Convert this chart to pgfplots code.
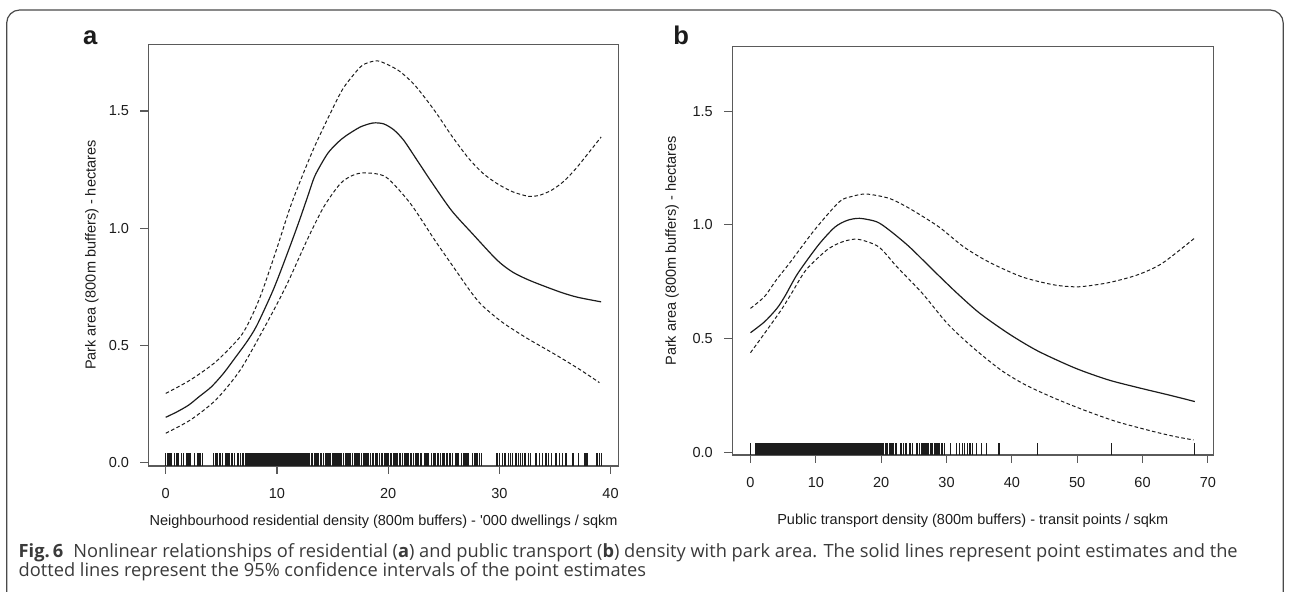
\documentclass[border=0pt]{standalone}
\usepackage{fontspec}
\setmainfont{Liberation Sans}
\newfontfamily\capfont{Open Sans}
\usepackage{pgfplots}
\pgfplotsset{compat=1.18}
\definecolor{boxgray}{HTML}{5A5A5A}
\definecolor{framegray}{HTML}{4A4A4A}
\definecolor{captext}{HTML}{3A3A3A}
\definecolor{ink}{HTML}{1C1C1C}
\newlength\tmpw
\newcommand\xlaba{Neighbourhood residential density (800m buffers) - \textquotesingle000 dwellings / sqkm}
\newcommand\capone{\textbf{Fig.\,6}\hspace{0.55em}Nonlinear relationships of residential (\textbf{a}) and public transport (\textbf{b}) density with park area. The solid lines represent point estimates and the}
\pgfplotsset{
  rstyle/.style={
    scale only axis, anchor=south west,
    axis line style={boxgray, line width=0.55pt},
    every tick/.style={boxgray, line width=0.55pt},
    tick align=outside, major tick length=4pt,
    xtick pos=bottom, ytick pos=left,
    ytick={0,0.5,1,1.5},
    yticklabels={0.0,0.5,1.0,1.5},
    /pgf/number format/assume math mode=true,
    tick label style={font=\fontsize{\labsize}{\labsize}\selectfont, text=ink},
    yticklabel style={xshift=-2.2pt},
    xticklabel style={yshift=-3.5pt},
    label style={font=\fontsize{\labsize}{\labsize}\selectfont, text=ink},
    ylabel style={anchor=center},
    xlabel style={anchor=center},
    clip=false,
  },
  est/.style={ink, line width=0.6pt, smooth, tension=0.45},
  ci/.style={ink, line width=0.5pt, dash pattern=on 1.8pt off 1.2pt, smooth, tension=0.45},
}
\begin{document}%
\settowidth\tmpw{\fontsize{10}{12}\selectfont\xlaba}%
\pgfmathsetmacro\labsize{10*234/\tmpw}%
\settowidth\tmpw{\capfont\fontsize{10}{12}\selectfont\capone}%
\pgfmathsetmacro\capsize{10*609.5/\tmpw}%
\begin{tikzpicture}[x=1pt,y=1pt]
\path[use as bounding box] (0,0) rectangle (645,296);
\draw[framegray, line width=0.6pt, rounded corners=6.5pt] (3.35,-20) rectangle (641.6,291);

% ---------------- panel a ----------------
\begin{axis}[rstyle,
  at={(74.2pt,63pt)}, width=235.25pt, height=210.85pt,
  xmin=-1.56, xmax=40.75, ymin=-0.016, ymax=1.785,
  xtick={0,10,20,30,40},
  xlabel={\xlaba},
  ylabel={Park area (800m buffers) - hectares},
  xlabel style={at={(axis description cs:0.5,-0.1321)}},
  ylabel style={at={(axis description cs:-0.1199,0.5)}},
]
\addplot[est] coordinates {
(0,0.192)(1,0.215)(2.06,0.244)(3,0.28)(4.1,0.322)(5.2,0.38)(6.3,0.45)(7.3,0.515)
(8.2,0.585)(9.7,0.74)(11.0,0.90)(12.0,1.03)(12.8,1.14)(13.43,1.225)(14.55,1.318)(15.5,1.367)
(16.2,1.394)(17.5,1.432)(18.65,1.449)(19.6,1.445)(20.5,1.42)(21.4,1.375)(22.6,1.29)
(23.9,1.197)(25.7,1.075)(27.6,0.975)(29.8,0.863)(31.2,0.812)(32.8,0.775)(35.4,0.728)
(37.0,0.705)(39.15,0.685)};
\addplot[ci] coordinates {
(0,0.294)(2.2,0.351)(4.5,0.429)(6.7,0.536)(7.7,0.62)(8.6,0.72)(9.9,0.9)(11.2,1.09)
(12.3,1.225)(13.4,1.35)(14.9,1.50)(16.0,1.60)(17.5,1.688)(18.3,1.708)(19.2,1.713)
(20.9,1.674)(22.4,1.61)(24.2,1.50)(25.7,1.395)(27.2,1.30)(28.5,1.235)(29.8,1.19)
(31.2,1.155)(32.6,1.136)(33.6,1.14)(34.7,1.162)(35.8,1.2)(36.9,1.255)(38.0,1.32)(39.15,1.389)};
\addplot[ci] coordinates {
(0,0.124)(2.2,0.18)(4.5,0.266)(6.7,0.394)(8.9,0.578)(10.8,0.75)(12.7,0.948)(14.2,1.09)
(15.7,1.19)(16.8,1.225)(17.9,1.236)(19.8,1.218)(22.0,1.105)(24.2,0.948)(26.0,0.825)
(27.4,0.73)(28.4,0.672)(30.2,0.60)(32.4,0.532)(35.1,0.458)(37.3,0.394)(39.0,0.34)};
% rug
\addplot[only marks, mark=|, mark size=3.16pt, mark options={ink, line width=0.75pt}] coordinates {
(0.0,0.011)(0.2,0.011)(0.4,0.011)(0.5,0.011)(0.8,0.011)(1.0,0.011)(1.1,0.011)(1.4,0.011)
(1.6,0.011)(1.9,0.011)(2.1,0.011)(2.2,0.011)(2.6,0.011)(2.9,0.011)(3.1,0.011)(3.3,0.011)
(4.3,0.011)(4.5,0.011)(4.6,0.011)(4.9,0.011)(5.1,0.011)(5.4,0.011)(5.5,0.011)(5.7,0.011)
(5.9,0.011)(6.0,0.011)(6.2,0.011)(6.5,0.011)(6.7,0.011)(6.9,0.011)(7.0,0.011)(7.2,0.011)
(12.5,0.011)(12.6,0.011)(12.8,0.011)(12.9,0.011)(13.1,0.011)(13.2,0.011)(13.4,0.011)(13.6,0.011)
(13.7,0.011)(13.9,0.011)(14.0,0.011)(14.2,0.011)(14.4,0.011)(14.5,0.011)(14.7,0.011)(14.8,0.011)
(15.0,0.011)(15.1,0.011)(15.2,0.011)(15.3,0.011)(15.4,0.011)(15.5,0.011)(15.6,0.011)(15.7,0.011)
(15.8,0.011)(16.0,0.011)(16.2,0.011)(16.3,0.011)(16.5,0.011)(16.6,0.011)(16.8,0.011)(17.0,0.011)
(17.1,0.011)(17.3,0.011)(17.4,0.011)(17.6,0.011)(17.8,0.011)(17.9,0.011)(18.1,0.011)(18.2,0.011)
(18.4,0.011)(18.6,0.011)(18.7,0.011)(18.9,0.011)(19.0,0.011)(19.2,0.011)(19.4,0.011)(19.5,0.011)
(19.7,0.011)(19.8,0.011)(20.0,0.011)(20.2,0.011)(20.3,0.011)(20.5,0.011)(20.6,0.011)(20.8,0.011)
(21.0,0.011)(21.1,0.011)(21.3,0.011)(21.5,0.011)(21.6,0.011)(21.8,0.011)(22.0,0.011)(22.1,0.011)
(22.3,0.011)(22.5,0.011)(22.7,0.011)(22.9,0.011)(23.0,0.011)(23.3,0.011)(23.5,0.011)(23.6,0.011)
(23.9,0.011)(24.1,0.011)(24.2,0.011)(24.5,0.011)(24.7,0.011)(24.9,0.011)(25.0,0.011)(25.3,0.011)
(25.5,0.011)(25.6,0.011)(25.8,0.011)(26.1,0.011)(26.3,0.011)(26.6,0.011)(26.8,0.011)(27.0,0.011)
(27.2,0.011)(27.6,0.011)(27.8,0.011)(28.0,0.011)(28.2,0.011)(28.4,0.011)
(29.8,0.011)(30.0,0.011)(30.3,0.011)(30.5,0.011)(30.8,0.011)(31.0,0.011)(31.2,0.011)(31.5,0.011)
(31.7,0.011)(31.9,0.011)(32.1,0.011)(32.3,0.011)(32.6,0.011)(32.8,0.011)(33.3,0.011)(33.6,0.011)
(33.9,0.011)(34.2,0.011)(34.4,0.011)(34.7,0.011)(35.1,0.011)(35.4,0.011)(35.7,0.011)(36.0,0.011)
(36.6,0.011)(37.1,0.011)(37.7,0.011)(37.9,0.011)(38.8,0.011)(39.0,0.011)(39.2,0.011)};
\addplot[only marks, mark=|, mark size=3.16pt, mark options={ink, line width=2pt}] coordinates {
(7.45,0.011)(7.75,0.011)(8.05,0.011)(8.35,0.011)(8.65,0.011)(8.95,0.011)(9.25,0.011)(9.55,0.011)
(9.85,0.011)(10.15,0.011)(10.45,0.011)(10.75,0.011)(11.05,0.011)(11.35,0.011)(11.65,0.011)
(11.95,0.011)(12.25,0.011)};
\end{axis}

% ---------------- panel b ----------------
\begin{axis}[rstyle,
  at={(366.1pt,68.5pt)}, width=240.55pt, height=204.15pt,
  xmin=-2.8, xmax=70.83, ymin=-0.012, ymax=1.784,
  xtick={0,10,20,30,40,50,60,70},
  xlabel={Public transport density (800m buffers) - transit points / sqkm},
  ylabel={Park area (800m buffers) - hectares},
  xlabel style={at={(axis description cs:0.5,-0.1609)}},
  ylabel style={at={(axis description cs:-0.1247,0.5)}},
]
\addplot[est] coordinates {
(0,0.526)(2.15,0.574)(4.05,0.633)(5.3,0.688)(7.2,0.785)(10.4,0.912)(12.9,0.99)(14.8,1.02)
(16.7,1.029)(19.3,1.014)(21.2,0.978)(24.3,0.904)(28.2,0.794)(31.6,0.70)(35.1,0.611)
(39.6,0.52)(44.0,0.445)(49.7,0.37)(54.8,0.318)(59.8,0.281)(64.3,0.25)(68,0.223)};
\addplot[ci] coordinates {
(0,0.633)(2.15,0.685)(4.0,0.76)(5.95,0.831)(9.8,0.978)(13.6,1.102)(15.5,1.125)(17.7,1.136)
(21.2,1.117)(24.3,1.073)(28.8,0.992)(32.6,0.904)(36.4,0.838)(41.5,0.772)(46.5,0.736)
(50.3,0.728)(54.8,0.746)(59.2,0.78)(63.0,0.831)(68.1,0.945)};
\addplot[ci] coordinates {
(0,0.438)(2.15,0.523)(4.7,0.626)(6.3,0.70)(8.5,0.802)(11.7,0.89)(14,0.925)(16.4,0.937)
(19.6,0.904)(22.4,0.816)(26.3,0.699)(30.1,0.567)(33.9,0.464)(38.3,0.362)(42.1,0.296)
(46.5,0.238)(51.0,0.186)(56.0,0.135)(61.7,0.091)(65,0.069)(67.8,0.054)};
% rug
\addplot[only marks, mark=|, mark size=2.96pt, mark options={ink, line width=0.6pt}] coordinates {
(0.0,0.014)
(20.4,0.014)(20.6,0.014)(20.8,0.014)(21.0,0.014)(21.3,0.014)(21.5,0.014)(21.8,0.014)(22.2,0.014)
(22.4,0.014)(22.9,0.014)(23.1,0.014)(23.4,0.014)(23.8,0.014)(24.3,0.014)(24.5,0.014)(24.8,0.014)
(25.4,0.014)(25.6,0.014)(25.9,0.014)(26.2,0.014)(26.4,0.014)(26.7,0.014)(27.0,0.014)(27.2,0.014)
(27.5,0.014)(27.7,0.014)(27.9,0.014)(28.2,0.014)(28.4,0.014)(28.7,0.014)(28.9,0.014)(29.2,0.014)
(29.4,0.014)(29.7,0.014)(30.6,0.014)(31.5,0.014)(32.0,0.014)(32.4,0.014)(32.8,0.014)(33.2,0.014)
(33.6,0.014)(34.0,0.014)(34.6,0.014)(35.3,0.014)(36.1,0.014)(37.9,0.014)(38.1,0.014)
(43.9,0.014)(55.2,0.014)(68.0,0.014)};
\addplot[only marks, mark=|, mark size=2.96pt, mark options={ink, line width=2pt}] coordinates {
(0.95,0.014)(1.45,0.014)(1.95,0.014)(2.45,0.014)(2.95,0.014)(3.45,0.014)(3.95,0.014)(4.45,0.014)
(4.95,0.014)(5.45,0.014)(5.95,0.014)(6.45,0.014)(6.95,0.014)(7.45,0.014)(7.95,0.014)(8.45,0.014)
(8.95,0.014)(9.45,0.014)(9.95,0.014)(10.45,0.014)(10.95,0.014)(11.45,0.014)(11.95,0.014)(12.45,0.014)
(12.95,0.014)(13.45,0.014)(13.95,0.014)(14.45,0.014)(14.95,0.014)(15.45,0.014)(15.95,0.014)(16.45,0.014)
(16.95,0.014)(17.45,0.014)(17.95,0.014)(18.45,0.014)(18.95,0.014)(19.45,0.014)(19.95,0.014)};
\end{axis}

% panel letters
\node[anchor=base west, inner sep=0pt, font=\bfseries\fontsize{12.8}{14}\selectfont, text=ink] at (41.35,273.5) {a};
\node[anchor=base west, inner sep=0pt, font=\bfseries\fontsize{12.8}{14}\selectfont, text=ink] at (336.5,273.5) {b};

% caption
\node[anchor=base west, inner sep=0pt, text=captext, font=\capfont\fontsize{\capsize}{\capsize}\selectfont] at (9.15,17.15) {\capone};
\node[anchor=base west, inner sep=0pt, text=captext, font=\capfont\fontsize{\capsize}{\capsize}\selectfont] at (9.15,7.65)
{dotted lines represent the 95\% confidence intervals of the point estimates};
\end{tikzpicture}
\end{document}
